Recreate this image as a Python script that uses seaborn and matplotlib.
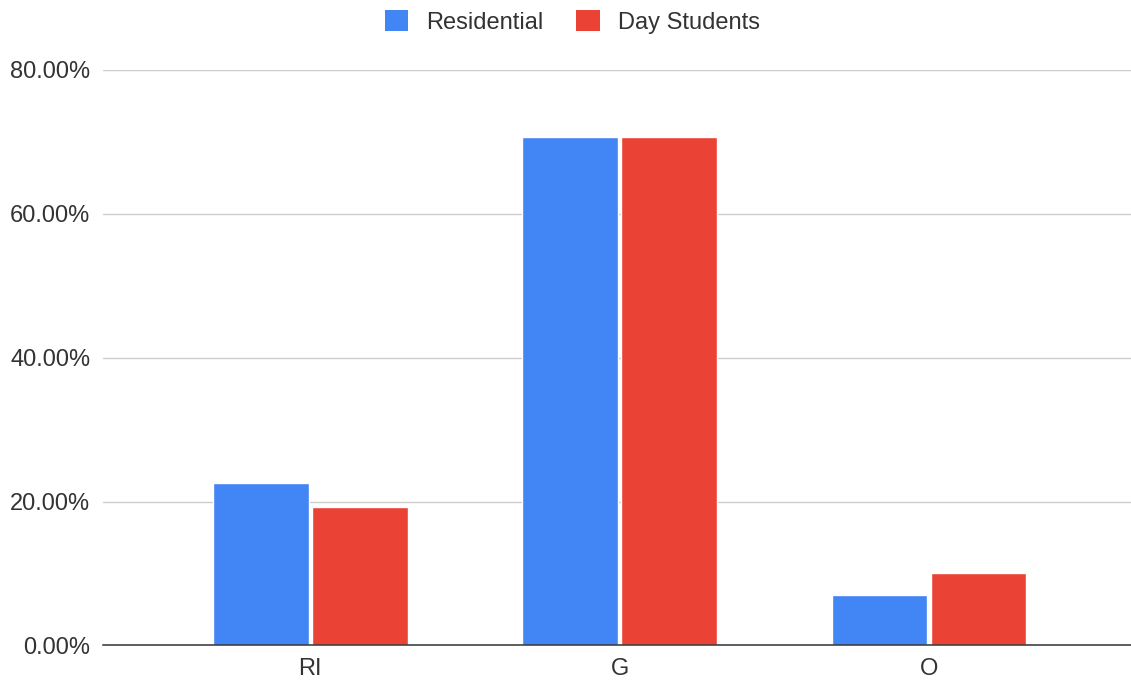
import matplotlib
matplotlib.use("Agg")
import matplotlib.pyplot as plt
from matplotlib.patches import Patch
from matplotlib.ticker import FuncFormatter
import pandas as pd
import seaborn as sns

# Share of students per category, in percent
categories = ["RI", "G", "O"]
residential = [22.58, 70.68, 7.05]
day_students = [19.22, 70.68, 10.03]
series_names = ["Residential", "Day Students"]
y_ticks = [0, 20, 40, 60, 80]

colors = ["#4285F4", "#EA4335"]
text_color = "#333333"

df = pd.DataFrame({
    "category": categories * 2,
    "share": residential + day_students,
    "group": [series_names[0]] * len(categories) + [series_names[1]] * len(categories),
})

sns.set_theme(style="white")
plt.rcParams["font.family"] = ["Liberation Sans", "DejaVu Sans"]

fig = plt.figure(figsize=(11.31, 6.81), dpi=100)
ax = fig.add_axes([0.0908, 0.0522, 0.9092, 0.8451])

sns.barplot(
    data=df, x="category", y="share", hue="group",
    order=categories, hue_order=series_names, palette=colors,
    width=0.64, gap=0.035, saturation=1, legend=False, ax=ax, zorder=2,
)

ax.set_xlim(-0.671, 2.653)
ax.set_ylim(0, 80)
ax.set_yticks(y_ticks)
ax.yaxis.set_major_formatter(FuncFormatter(lambda v, _: f"{v:.2f}%"))
ax.set_xlabel("")
ax.set_ylabel("")

ax.grid(axis="y", color="#cccccc", linewidth=1.0, zorder=0)
ax.grid(axis="x", visible=False)
ax.set_axisbelow(True)
for side in ["left", "right", "top"]:
    ax.spines[side].set_visible(False)
ax.spines["bottom"].set_color("#333333")
ax.spines["bottom"].set_linewidth(1.1)
ax.spines["bottom"].set_zorder(3)

ax.tick_params(axis="y", length=0, pad=9, labelsize=17, labelcolor=text_color)
ax.tick_params(axis="x", length=0, pad=9, labelsize=17, labelcolor=text_color)

handles = [Patch(facecolor=c, edgecolor="none") for c in colors]
fig.legend(
    handles, series_names, loc="center", bbox_to_anchor=(0.506, 0.968),
    ncol=2, frameon=False, fontsize=17, labelcolor=text_color,
    handlelength=1.0, handleheight=1.0, handletextpad=0.75,
    columnspacing=1.4, borderpad=0,
)

fig.savefig("out.png", dpi=100)
